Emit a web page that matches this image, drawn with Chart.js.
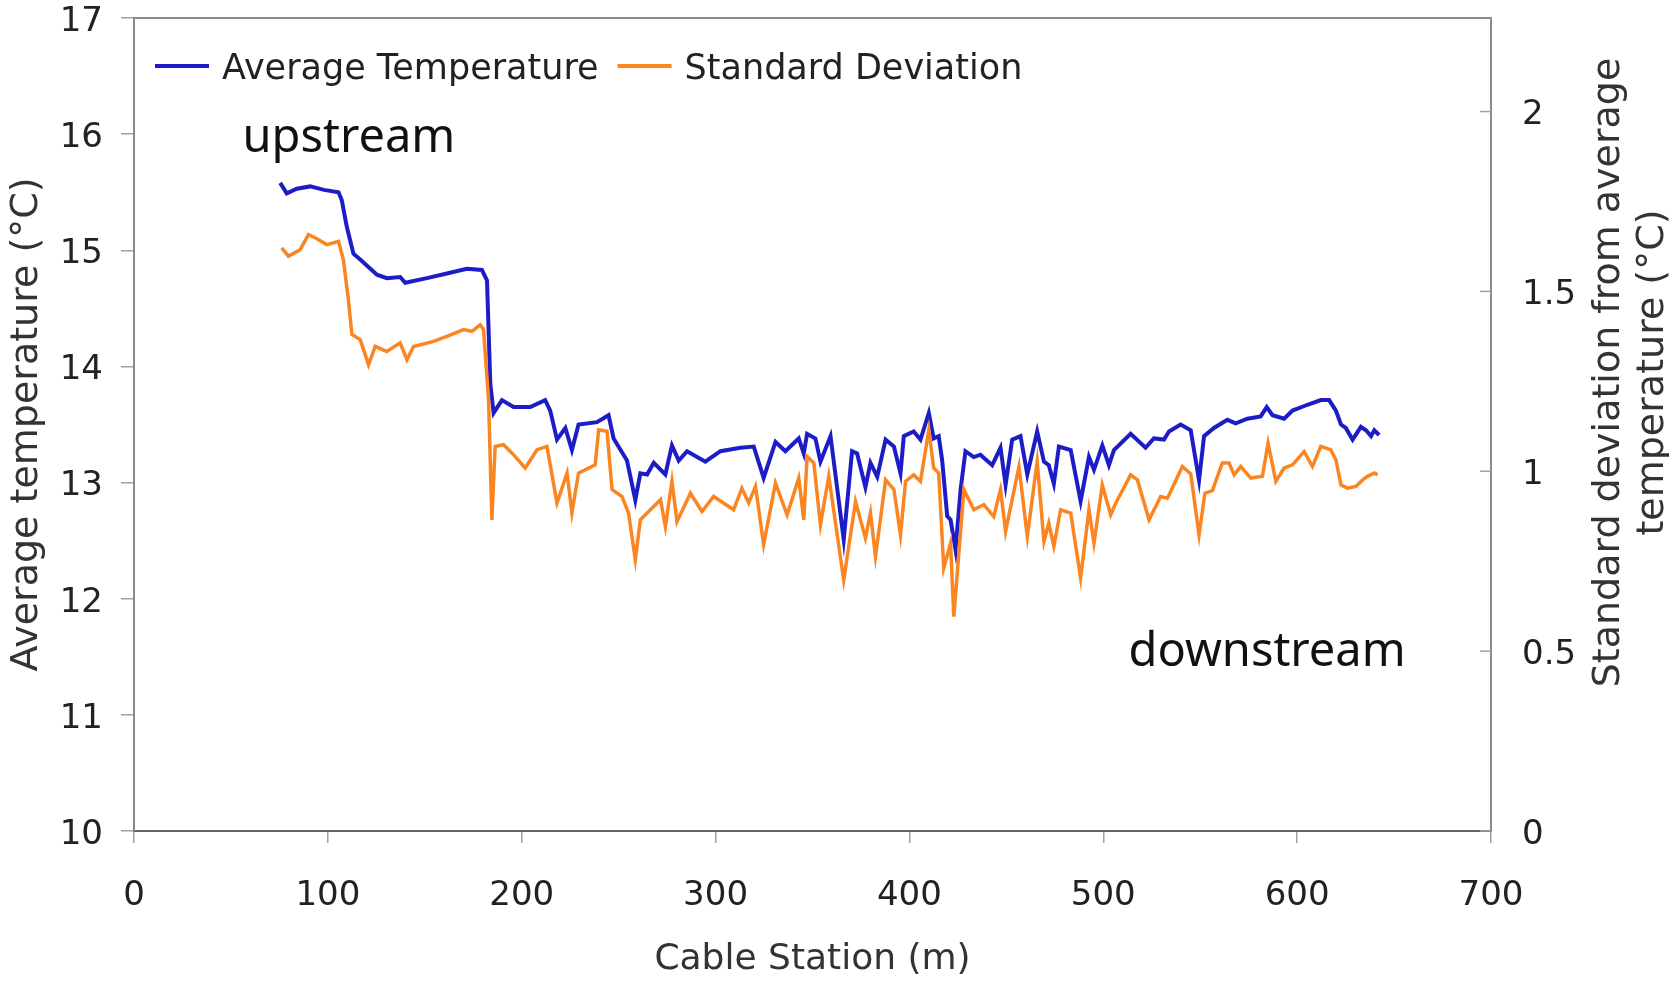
<!DOCTYPE html>
<html>
<head>
<meta charset="utf-8">
<script src="https://cdn.jsdelivr.net/npm/chart.js@4.4.1/dist/chart.umd.min.js"></script>
<style>
  html, body { margin: 0; padding: 0; background: #ffffff; }
  #wrap { width: 1669px; height: 981px; position: relative; }
  canvas { display: block; }
</style>
</head>
<body>
<div id="wrap"><canvas id="c" width="1669" height="981"></canvas></div>
<script>
// ---- Data ----
const seriesNames = ['Average Temperature', 'Standard Deviation'];

const avgStations = [75.4, 78.8, 84, 90.9, 98, 105.5, 107.2, 109.8, 113.2, 116.7, 125.3, 130.4, 137.3, 139.9, 151.1, 161.4, 171.7, 179.5, 182.1, 183.8,
  185.5, 189.8, 195.8, 204.4, 212.1, 214.7, 218.2, 222.5, 225.9, 229.3, 238.8, 244.8, 247.4, 254.3, 258.6, 261.2, 264.7, 268.1, 274.1, 277.5,
  281, 285.3, 294.7, 302.5, 312.8, 319.7, 324.8, 330.9, 336, 342.9, 345.5, 347.2, 351.5, 354.1, 359.3, 366.1, 370.4, 373, 377.3, 379.9,
  383.4, 387.7, 392, 395.4, 397.1, 402.2, 405.7, 410, 412.5, 415.1, 416.9, 419.5, 421.2, 423.8, 426.4, 428.9, 433.2, 436.6, 442.7, 447,
  449.6, 453, 457.3, 460.8, 465.9, 469.4, 471.9, 474.5, 477.1, 483.2, 488.3, 492.6, 495.2, 499.5, 502.9, 505.5, 514.1, 521.8, 526.1, 531.3,
  533.9, 539.9, 545.1, 549.4, 552, 557.1, 564, 568.3, 574.3, 581.2, 584.3, 587.3, 593.3, 597.6, 605.3, 612.2, 616.5, 620, 622.6, 625.1,
  628.6, 632.9, 635.5, 638.1, 639.8, 642.3];
const avgTemps = [15.58, 15.49, 15.53, 15.55, 15.52, 15.50, 15.43, 15.20, 14.97, 14.92, 14.79, 14.76, 14.77, 14.72, 14.76, 14.80, 14.84, 14.83, 14.74, 13.85,
  13.60, 13.71, 13.65, 13.65, 13.71, 13.62, 13.37, 13.47, 13.28, 13.50, 13.52, 13.58, 13.38, 13.19, 12.85, 13.08, 13.07, 13.17, 13.07, 13.32,
  13.19, 13.27, 13.18, 13.27, 13.30, 13.31, 13.04, 13.35, 13.27, 13.38, 13.25, 13.42, 13.38, 13.18, 13.40, 12.51, 13.27, 13.25, 12.96, 13.17,
  13.05, 13.37, 13.31, 13.08, 13.40, 13.44, 13.37, 13.60, 13.38, 13.40, 13.19, 12.71, 12.68, 12.42, 12.94, 13.27, 13.22, 13.24, 13.15, 13.30,
  12.98, 13.37, 13.40, 13.07, 13.44, 13.18, 13.15, 12.99, 13.31, 13.28, 12.84, 13.22, 13.11, 13.32, 13.15, 13.28, 13.42, 13.30, 13.38, 13.37,
  13.44, 13.50, 13.45, 13.02, 13.40, 13.47, 13.54, 13.51, 13.55, 13.57, 13.65, 13.58, 13.55, 13.62, 13.67, 13.71, 13.71, 13.62, 13.50, 13.47,
  13.37, 13.48, 13.45, 13.40, 13.45, 13.41];

const sdStations = [76.2, 79.7, 85.7, 90, 93.4, 99.5, 105.5, 108, 110.6, 112.4, 116.7, 121, 124.4, 130.4, 137.3, 140.8, 144.2, 154.5, 161.4, 170,
  174.3, 178.6, 180.3, 182.9, 184.6, 186.3, 190.6, 195.8, 201.8, 207.9, 213, 218.2, 223.4, 225.9, 229.3, 237.9, 239.7, 244, 246.6, 251.7,
  255.1, 258.6, 261.2, 266.4, 271.6, 274.1, 277.5, 280.1, 287, 293, 299, 309.3, 313.6, 317.1, 320.6, 324.8, 330.9, 336.9, 342.9, 345.5,
  347.2, 350.7, 354.1, 358.4, 366.1, 372.2, 377.3, 379.9, 382.5, 387.7, 392, 395.4, 398, 402.2, 405.7, 410, 412.5, 415.1, 417.7, 421.2,
  422.9, 428.1, 433.2, 438.4, 443.5, 447, 449.6, 456.5, 460.8, 465.9, 469.4, 471.9, 474.5, 478, 483.2, 488.3, 492.6, 495.2, 499.5, 503.8,
  506.4, 514.1, 517.6, 523.6, 529.6, 533.1, 540.8, 545.1, 549.4, 552.4, 556.3, 561.4, 564.9, 567.5, 570.9, 576.1, 582.1, 585, 589, 593.3,
  597.6, 603.6, 607.9, 612.2, 617.3, 620, 622.6, 626, 630.3, 633.8, 636.3, 639.8, 641.5];
const sdValues = [1.621, 1.598, 1.616, 1.658, 1.649, 1.630, 1.639, 1.588, 1.477, 1.380, 1.366, 1.296, 1.347, 1.333, 1.357, 1.310, 1.347, 1.361, 1.375, 1.394,
  1.389, 1.407, 1.394, 1.199, 0.865, 1.069, 1.074, 1.046, 1.009, 1.060, 1.069, 0.912, 0.995, 0.884, 0.995, 1.018, 1.115, 1.111, 0.949, 0.930,
  0.884, 0.754, 0.865, 0.893, 0.921, 0.846, 0.972, 0.860, 0.939, 0.888, 0.930, 0.893, 0.953, 0.912, 0.958, 0.796, 0.967, 0.879, 0.981, 0.865,
  1.041, 1.023, 0.851, 0.986, 0.698, 0.916, 0.814, 0.884, 0.763, 0.976, 0.949, 0.823, 0.972, 0.990, 0.972, 1.115, 1.009, 0.995, 0.731, 0.800,
  0.596, 0.949, 0.893, 0.907, 0.874, 0.949, 0.833, 1.013, 0.819, 1.027, 0.805, 0.856, 0.791, 0.893, 0.884, 0.703, 0.893, 0.800, 0.962, 0.879,
  0.911, 0.990, 0.976, 0.865, 0.930, 0.925, 1.013, 0.993, 0.823, 0.939, 0.946, 1.023, 1.023, 0.990, 1.013, 0.981, 0.986, 1.078, 0.972, 1.009,
  1.018, 1.055, 1.013, 1.069, 1.060, 1.032, 0.962, 0.953, 0.958, 0.976, 0.986, 0.995, 0.990];

// Axis ranges / tick steps
const xRange = [0, 700], xStep = 100;
const yLeftRange = [10, 17], yLeftStep = 1;
const yRightRange = [0, 2.26], yRightStep = 0.5;

// Axis titles and annotation labels
const xTitle = 'Cable Station (m)';
const yLeftTitle = 'Average temperature (°C)';
const yRightTitle = ['Standard deviation from average', 'temperature (°C)'];
const annotationTexts = ['upstream', 'downstream'];
const annotationAnchors = [[56, 15.85], [513, 11.42]]; // [station, temperature] of text baseline start

// ---- Styles ----
const BLUE = '#1d1dc8';
const ORANGE = '#fb8621';
const FONT = "'DejaVu Sans', Verdana, sans-serif";
const AXIS_GRAY = '#8a8a8a';

const toPoints = (xs, ys) => xs.map((x, i) => ({ x: x, y: ys[i] }));

const framePlugin = {
  id: 'frameAndExtras',
  beforeDatasetsDraw(chart) {
    const { ctx, chartArea: a } = chart;
    ctx.save();
    ctx.strokeStyle = AXIS_GRAY;
    ctx.lineWidth = 2;
    ctx.beginPath();
    ctx.moveTo(a.left, a.top);
    ctx.lineTo(a.right, a.top);
    ctx.lineTo(a.right, a.bottom);
    ctx.stroke();
    // inward tick marks of the right axis
    const y1 = chart.scales.y1;
    ctx.lineWidth = 1.5;
    ctx.strokeStyle = '#a0a0a0';
    y1.ticks.forEach(t => {
      const py = y1.getPixelForValue(t.value);
      ctx.beginPath();
      ctx.moveTo(a.right - 11, py);
      ctx.lineTo(a.right, py);
      ctx.stroke();
    });
    ctx.restore();
  },
  afterDraw(chart) {
    const { ctx, chartArea: a } = chart;
    const xs = chart.scales.x, ys = chart.scales.y;
    ctx.save();
    // Legend inside the plot
    ctx.font = "35px " + FONT;
    ctx.textBaseline = 'alphabetic';
    ctx.textAlign = 'left';
    let lx = 155;
    const ly = 66;
    chart.data.datasets.slice().sort((p, q) => p.legendIndex - q.legendIndex).forEach(ds => {
      ctx.strokeStyle = ds.borderColor;
      ctx.lineWidth = 4;
      ctx.beginPath();
      ctx.moveTo(lx, ly);
      ctx.lineTo(lx + 54, ly);
      ctx.stroke();
      ctx.fillStyle = '#222';
      ctx.fillText(ds.label, lx + 67, ly + 13);
      lx += 67 + ctx.measureText(ds.label).width + 19;
    });
    // Annotations
    ctx.font = "47px 'Noto Sans', " + FONT;
    ctx.fillStyle = '#111';
    annotationTexts.forEach((t, i) => {
      const px = xs.getPixelForValue(annotationAnchors[i][0]);
      const py = ys.getPixelForValue(annotationAnchors[i][1]);
      ctx.fillText(t, px, py);
    });
    // Right axis title (reads bottom to top)
    ctx.font = "38px " + FONT;
    ctx.fillStyle = '#333';
    ctx.textAlign = 'center';
    ctx.textBaseline = 'middle';
    const cy = (a.top + a.bottom) / 2 - 52;
    yRightTitle.forEach((line, i) => {
      ctx.save();
      ctx.translate(1609 + i * 44, cy);
      ctx.rotate(-Math.PI / 2);
      ctx.fillText(line, 0, 0);
      ctx.restore();
    });
    ctx.restore();
  }
};

Chart.defaults.font.family = FONT;

new Chart(document.getElementById('c'), {
  type: 'line',
  data: {
    datasets: [
      {
        label: seriesNames[0],
        data: toPoints(avgStations, avgTemps),
        yAxisID: 'y',
        borderColor: BLUE,
        backgroundColor: BLUE,
        borderWidth: 4,
        pointRadius: 0,
        tension: 0,
        order: 1,
        legendIndex: 0
      },
      {
        label: seriesNames[1],
        data: toPoints(sdStations, sdValues),
        yAxisID: 'y1',
        borderColor: ORANGE,
        backgroundColor: ORANGE,
        borderWidth: 3.5,
        pointRadius: 0,
        tension: 0,
        order: 0,
        legendIndex: 1
      }
    ]
  },
  options: {
    responsive: false,
    animation: false,
    devicePixelRatio: 1,
    layout: { padding: { top: 18, left: 0, right: 0, bottom: 0 } },
    plugins: { legend: { display: false }, tooltip: { enabled: false } },
    scales: {
      x: {
        type: 'linear',
        min: xRange[0], max: xRange[1],
        ticks: { stepSize: xStep, color: '#222', font: { size: 34, family: FONT }, padding: 33, maxRotation: 0 },
        grid: { drawOnChartArea: false, tickLength: 12, color: '#a0a0a0', lineWidth: 1.5 },
        border: { color: '#666', width: 2 },
        title: { display: true, text: xTitle, color: '#333', font: { size: 36, family: FONT }, padding: { top: 0, bottom: 0 } },
        afterFit(s) { s.height = 150; s.paddingLeft = 0; s.paddingRight = 0; }
      },
      y: {
        type: 'linear',
        position: 'left',
        min: yLeftRange[0], max: yLeftRange[1],
        ticks: { stepSize: yLeftStep, color: '#222', font: { size: 34, family: FONT, lineHeight: 1 }, padding: 18, labelOffset: 4 },
        grid: { drawOnChartArea: false, tickLength: 13, color: '#a0a0a0', lineWidth: 1.5 },
        border: { color: AXIS_GRAY, width: 2 },
        title: { display: true, text: yLeftTitle, color: '#333', font: { size: 38, family: FONT }, padding: { top: 4, bottom: 0 } },
        afterFit(s) { s.width = 134; s.paddingTop = 0; s.paddingBottom = 0; }
      },
      y1: {
        type: 'linear',
        position: 'right',
        min: yRightRange[0], max: yRightRange[1],
        ticks: {
          stepSize: yRightStep, includeBounds: false, color: '#222',
          font: { size: 34, family: FONT, lineHeight: 1 }, padding: 31, labelOffset: 4,
          callback: v => String(Math.round(v * 100) / 100)
        },
        grid: { drawOnChartArea: false, drawTicks: false },
        border: { color: AXIS_GRAY, width: 2 },
        afterFit(s) { s.width = 178; s.paddingTop = 0; s.paddingBottom = 0; }
      }
    }
  },
  plugins: [framePlugin]
});
</script>
</body>
</html>
